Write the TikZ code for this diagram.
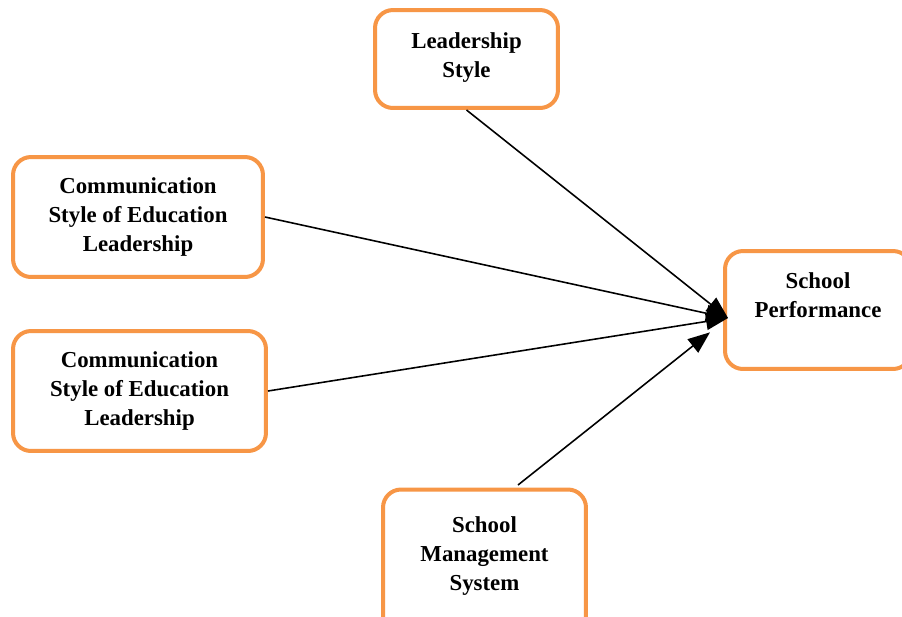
\documentclass[tikz,border=0pt]{standalone}
\usepackage{fontspec}
\setmainfont{Liberation Serif}
\usetikzlibrary{arrows.meta}

\definecolor{boxorange}{HTML}{F79646}

\begin{document}
\begin{tikzpicture}[x=0.02cm, y=-0.02cm,
    factor/.style={draw=boxorange, line width=0.08cm, rounded corners=0.36cm, fill=white,
      align=center, font=\fontsize{13}{16.5}\selectfont\bfseries},
    link/.style={line width=0.9pt, -{Triangle[length=0.44cm, width=0.34cm]}}]

\useasboundingbox (0,0) rectangle (902,616);
\clip (0,0) rectangle (902,616);

% boxes
\path (466.5,59) node[factor, minimum width=3.66cm, minimum height=1.96cm, text depth=4.5pt] (lead) {Leadership\\Style};
\path (138,217) node[factor, minimum width=5cm, minimum height=2.4cm] (comm1) {Communication\\Style of Education\\Leadership};
\path (139.5,391) node[factor, minimum width=5.06cm, minimum height=2.4cm] (comm2) {Communication\\Style of Education\\Leadership};
\path (484.5,562) node[factor, minimum width=4.06cm, minimum height=2.9cm, text depth=9.5pt] (mgmt) {School\\Management\\System};
\path (818,310) node[factor, minimum width=3.72cm, minimum height=2.36cm, text depth=17pt] (perf) {School\\Performance};

% arrow ends
\coordinate (hub) at (728,318);
\coordinate (mgmt top) at (518,485);

% arrows
\draw[link] (lead.south) -- (hub);
\draw[link] (comm1.east) -- (hub);
\draw[link] (comm2.east) -- (hub);
\draw[link, shorten >=0.46cm] (mgmt top) -- (hub);

\end{tikzpicture}
\end{document}
